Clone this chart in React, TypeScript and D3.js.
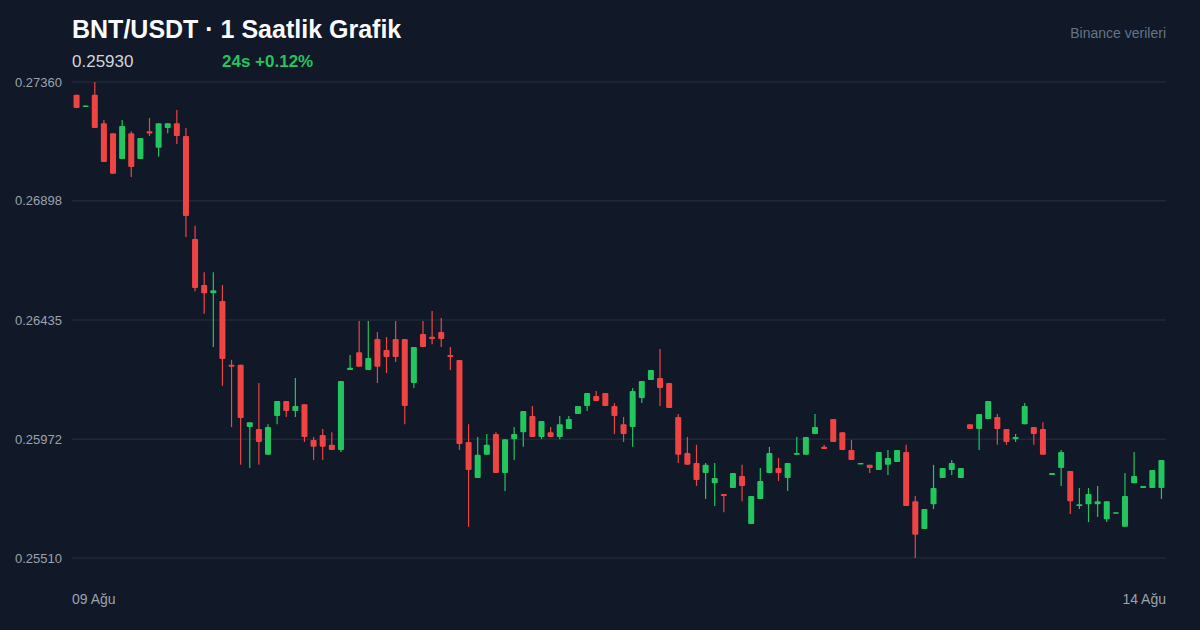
import React, { useRef, useEffect, useCallback } from 'react';
import * as d3 from 'd3';

// hourly candles, 09 Ağu -> 14 Ağu
const opens = [
  0.2731, 0.27263, 0.2731, 0.272, 0.27161, 0.27061, 0.27161, 0.27061, 0.27169, 0.27104,
  0.27181, 0.272, 0.2715, 0.2675, 0.26571, 0.26539, 0.26509, 0.26261, 0.26261, 0.26019,
  0.26011, 0.25911, 0.26062, 0.2612, 0.26081, 0.26108, 0.25969, 0.25988, 0.2595, 0.2593,
  0.26241, 0.2631, 0.26241, 0.26361, 0.26318, 0.26361, 0.26361, 0.2619, 0.26381, 0.2637,
  0.26388, 0.26299, 0.2628, 0.25961, 0.25821, 0.25911, 0.25992, 0.2584, 0.25972, 0.25999,
  0.26062, 0.2598, 0.25999, 0.2598, 0.26011, 0.2607, 0.26101, 0.2614, 0.26151, 0.26101,
  0.2603, 0.26019, 0.26132, 0.26202, 0.2621, 0.2619, 0.26058, 0.25918, 0.25879, 0.2584,
  0.25801, 0.25759, 0.25782, 0.25829, 0.25642, 0.25739, 0.2584, 0.2586, 0.25821, 0.25911,
  0.25911, 0.25992, 0.25942, 0.2605, 0.25999, 0.2593, 0.25875, 0.25872, 0.25852, 0.25872,
  0.25883, 0.25922, 0.25731, 0.25623, 0.25719, 0.25821, 0.25852, 0.25821, 0.2603, 0.26011,
  0.2605, 0.26058, 0.26011, 0.25972, 0.2603, 0.26019, 0.26011, 0.25833, 0.2586, 0.25848,
  0.25712, 0.25719, 0.25719, 0.25661, 0.25684, 0.25631, 0.25801, 0.25782, 0.25782, 0.25782,
];
const highs = [
  0.2731, 0.27269, 0.2736, 0.27212, 0.27161, 0.27212, 0.27169, 0.27142, 0.2722, 0.272,
  0.272, 0.27251, 0.27181, 0.26801, 0.26621, 0.26621, 0.26571, 0.2628, 0.26261, 0.26038,
  0.2619, 0.2603, 0.2612, 0.2612, 0.2621, 0.26108, 0.2598, 0.26011, 0.25999, 0.26198,
  0.26299, 0.26431, 0.26431, 0.26388, 0.26369, 0.26431, 0.26361, 0.2633, 0.26431, 0.2647,
  0.26443, 0.2633, 0.2628, 0.2603, 0.2598, 0.25992, 0.25999, 0.25972, 0.26019, 0.26081,
  0.26101, 0.26042, 0.26019, 0.26062, 0.26062, 0.26101, 0.26151, 0.26159, 0.26151, 0.26112,
  0.26058, 0.26171, 0.26198, 0.26241, 0.26322, 0.2619, 0.2607, 0.2598, 0.2595, 0.25879,
  0.25879, 0.25759, 0.2584, 0.25872, 0.25751, 0.2586, 0.25942, 0.25899, 0.25879, 0.2598,
  0.2598, 0.2607, 0.2595, 0.2605, 0.25999, 0.25969, 0.25879, 0.25872, 0.25922, 0.2593,
  0.2593, 0.2595, 0.25751, 0.257, 0.25872, 0.2586, 0.25891, 0.2586, 0.2603, 0.2607,
  0.2612, 0.2607, 0.26011, 0.25992, 0.26112, 0.26019, 0.26038, 0.2584, 0.2593, 0.25848,
  0.25782, 0.25782, 0.2579, 0.25731, 0.25688, 0.2584, 0.25922, 0.2579, 0.25852, 0.25891,
];
const lows = [
  0.27259, 0.27263, 0.27181, 0.27049, 0.27003, 0.27061, 0.26991, 0.27061, 0.2715, 0.27069,
  0.27161, 0.27119, 0.26758, 0.26547, 0.26459, 0.2633, 0.26179, 0.26019, 0.25872, 0.2586,
  0.25872, 0.25911, 0.2603, 0.26058, 0.26058, 0.25961, 0.25891, 0.25891, 0.2593, 0.25922,
  0.26241, 0.26253, 0.26241, 0.2619, 0.26229, 0.26272, 0.2603, 0.26171, 0.2633, 0.26341,
  0.2633, 0.26241, 0.2593, 0.25631, 0.25821, 0.25911, 0.2584, 0.2577, 0.25891, 0.25942,
  0.2598, 0.25972, 0.2598, 0.25972, 0.26011, 0.2607, 0.26081, 0.2612, 0.26101, 0.25992,
  0.25961, 0.25942, 0.26112, 0.26202, 0.26101, 0.26093, 0.25879, 0.25872, 0.2579, 0.25739,
  0.25712, 0.25688, 0.25782, 0.25731, 0.25642, 0.25739, 0.2584, 0.25809, 0.2577, 0.25911,
  0.25911, 0.25992, 0.25934, 0.25961, 0.2593, 0.25891, 0.25875, 0.2584, 0.25852, 0.25833,
  0.25883, 0.25712, 0.2551, 0.25623, 0.257, 0.25821, 0.25833, 0.25821, 0.26011, 0.2593,
  0.2605, 0.2595, 0.2595, 0.25961, 0.2603, 0.2595, 0.25911, 0.25833, 0.2579, 0.25681,
  0.257, 0.2565, 0.25669, 0.2565, 0.25684, 0.25631, 0.25801, 0.25782, 0.25782, 0.25739,
];
const closes = [
  0.27259, 0.27269, 0.27181, 0.27049, 0.27003, 0.27189, 0.2703, 0.27142, 0.2716, 0.272,
  0.272, 0.2715, 0.26839, 0.26559, 0.26539, 0.26551, 0.26283, 0.26253, 0.26054, 0.26038,
  0.25961, 0.26019, 0.2612, 0.26081, 0.26101, 0.2598, 0.25942, 0.25942, 0.2593, 0.26198,
  0.26249, 0.26253, 0.26287, 0.26253, 0.26291, 0.26291, 0.26101, 0.2633, 0.2633, 0.26361,
  0.26361, 0.26291, 0.25953, 0.25852, 0.25911, 0.2595, 0.2584, 0.25972, 0.25992, 0.26081,
  0.2598, 0.26042, 0.2598, 0.2603, 0.2605, 0.26101, 0.26151, 0.2612, 0.26101, 0.26062,
  0.25992, 0.26159, 0.26198, 0.26241, 0.26171, 0.26093, 0.25911, 0.25872, 0.25813, 0.25872,
  0.25821, 0.25751, 0.2584, 0.2579, 0.25751, 0.25809, 0.25918, 0.2584, 0.25879, 0.25918,
  0.2598, 0.26019, 0.25934, 0.25961, 0.2593, 0.25891, 0.25879, 0.2586, 0.25922, 0.25899,
  0.2593, 0.25712, 0.256, 0.257, 0.25782, 0.2586, 0.25879, 0.2586, 0.26011, 0.2607,
  0.2612, 0.26011, 0.25961, 0.2598, 0.26101, 0.25992, 0.25911, 0.2584, 0.25922, 0.25731,
  0.25719, 0.25759, 0.25731, 0.25731, 0.25688, 0.25751, 0.25829, 0.2579, 0.25852, 0.25891,
];

const yTicks = [0.2736, 0.26898, 0.26435, 0.25972, 0.2551];
const xTickLabels = ['09 Ağu', '14 Ağu'];

const width = 1200;
const height = 630;
const margin = { top: 82, right: 34, bottom: 72, left: 72 };
const green = '#22c55e';
const red = '#ef4444';
const font = '"Liberation Sans", Arial, sans-serif';

const CandleChart: React.FC = () => {
  const chartRef = useRef(null);

  const draw = useCallback(() => {
    const data = opens.map((o, i) => ({
      i,
      open: o,
      high: highs[i],
      low: lows[i],
      close: closes[i],
    }));

    const x = d3
      .scaleBand()
      .domain(d3.range(data.length).map(String))
      .range([margin.left, width - margin.right]);

    const y = d3
      .scaleLinear()
      .domain([d3.min(yTicks) ?? 0, d3.max(yTicks) ?? 1])
      .range([height - margin.bottom, margin.top]);

    d3.select(chartRef.current).selectAll('svg').remove();

    const svg = d3
      .select(chartRef.current)
      .append('svg')
      .attr('viewBox', `0, 0, ${width}, ${height}`)
      .attr('width', width)
      .attr('height', height)
      .style('display', 'block')
      .style('font-family', font);

    svg.append('rect').attr('width', width).attr('height', height).attr('fill', '#111827');

    /** grid + y labels */
    const grid = svg.append('g');
    grid
      .selectAll('line')
      .data(yTicks)
      .join('line')
      .attr('x1', margin.left)
      .attr('x2', width - margin.right)
      .attr('y1', (d) => y(d))
      .attr('y2', (d) => y(d))
      .attr('stroke', '#1f2937')
      .attr('stroke-width', 1.5);
    grid
      .selectAll('text')
      .data(yTicks)
      .join('text')
      .attr('x', 62)
      .attr('y', (d) => y(d))
      .attr('dy', '0.35em')
      .attr('text-anchor', 'end')
      .attr('fill', '#9ca3af')
      .attr('font-size', 13)
      .text((d) => d.toFixed(5));

    /** candles */
    const bw = x.bandwidth() * 0.66;
    const candles = svg
      .append('g')
      .selectAll('g')
      .data(data)
      .join('g')
      .attr('transform', (d) => `translate(${(x(String(d.i)) ?? 0) + x.bandwidth() / 2},0)`);

    candles
      .append('line')
      .attr('y1', (d) => y(d.high))
      .attr('y2', (d) => y(d.low))
      .attr('stroke', (d) => (d.close >= d.open ? green : red))
      .attr('stroke-width', 1.2);

    candles
      .append('rect')
      .attr('x', -bw / 2)
      .attr('width', bw)
      .attr('y', (d) => y(Math.max(d.open, d.close)))
      .attr('height', (d) => Math.max(1.5, Math.abs(y(d.open) - y(d.close))))
      .attr('rx', 1)
      .attr('fill', (d) => (d.close >= d.open ? green : red));

    /** x labels */
    svg
      .append('g')
      .selectAll('text')
      .data(xTickLabels)
      .join('text')
      .attr('x', (d, i) => (i === 0 ? margin.left : width - margin.right))
      .attr('y', 604)
      .attr('text-anchor', (d, i) => (i === 0 ? 'start' : 'end'))
      .attr('fill', '#9ca3af')
      .attr('font-size', 14)
      .text((d) => d);

    /** header */
    svg
      .append('text')
      .attr('x', 72)
      .attr('y', 38)
      .attr('fill', '#f9fafb')
      .attr('font-size', 25)
      .attr('font-weight', 700)
      .text('BNT/USDT · 1 Saatlik Grafik');
    svg
      .append('text')
      .attr('x', 72)
      .attr('y', 67)
      .attr('fill', '#d1d5db')
      .attr('font-size', 17)
      .text('0.25930');
    svg
      .append('text')
      .attr('x', 222)
      .attr('y', 67)
      .attr('fill', green)
      .attr('font-size', 17)
      .attr('font-weight', 700)
      .text('24s +0.12%');
    svg
      .append('text')
      .attr('x', width - margin.right)
      .attr('y', 38)
      .attr('text-anchor', 'end')
      .attr('fill', '#64748b')
      .attr('font-size', 14)
      .text('Binance verileri');
  }, []);

  useEffect(() => {
    draw();
  }, [draw]);

  return <div ref={chartRef} />;
};

export default function App() {
  useEffect(() => {
    document.body.style.margin = '0';
    document.body.style.background = '#111827';
  }, []);
  return <CandleChart />;
}
